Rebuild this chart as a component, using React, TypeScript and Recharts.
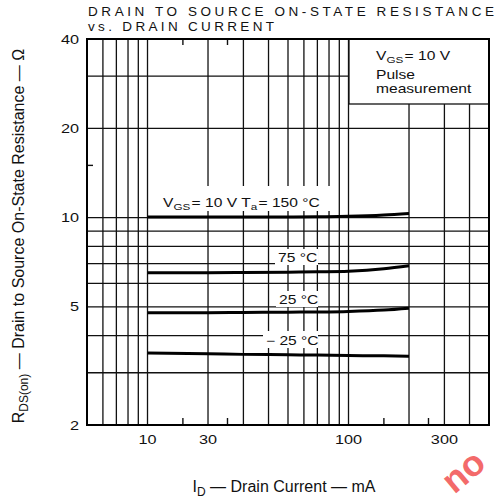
import React from "react";
import { LineChart, Line, XAxis, YAxis, CartesianGrid } from "recharts";

// drain current, mA
const currents = [10, 20, 30, 50, 70, 100, 150, 200];
// on-state resistance, ohm, per ambient temperature
const r150 = [10.05, 10.05, 10.05, 10.05, 10.07, 10.1, 10.2, 10.33];
const r75 = [6.52, 6.52, 6.53, 6.55, 6.57, 6.6, 6.72, 6.88];
const r25 = [4.78, 4.78, 4.79, 4.8, 4.81, 4.83, 4.88, 4.95];
const rMinus25 = [3.5, 3.48, 3.46, 3.45, 3.44, 3.43, 3.42, 3.41];

const xTicks = [10, 20, 100, 300];
const xTickLabels = ["10", "30", "100", "300"];
const yTicks = [2, 5, 10, 20, 40];
const xGrid = [6, 7, 8, 9, 10, 20, 30, 40, 50, 60, 70, 80, 90, 100, 200, 300, 400];
const yGrid = [3, 4, 5, 6, 7, 8, 9, 10, 20, 30];
const xMinor = [15, 25, 150, 250];
const yMinor = [15];

const X_DOMAIN = [5, 500];
const Y_DOMAIN = [2, 40];

const data = currents.map((id, i) => ({
  id,
  t150: r150[i],
  t75: r75[i],
  t25: r25[i],
  tm25: rMinus25[i],
}));

const FONT = "'Liberation Sans', Arial, Helvetica, sans-serif";
const INK = "#111";
const SX = 1.3;
const PLOT_H = 386;
const TICK_GAP = 10; // tickSize + tickMargin of the x axis

function Wide({ x, y, size = 12, anchor = "start", children }: any) {
  return (
    <g transform={`translate(${x},${y}) scale(${SX},1)`}>
      <text x={0} y={0} textAnchor={anchor} fontSize={size} fontFamily={FONT} fill={INK}>
        {children}
      </text>
    </g>
  );
}

function Sub({ children }: any) {
  return (
    <>
      <tspan dy={3} fontSize={9}>{children}</tspan>
      <tspan dy={-3}>{"\u200a"}</tspan>
    </>
  );
}

// labelled ticks get text; minor ticks get short inner marks at bottom and top
function XTick({ x, y, payload }: any) {
  const i = xTicks.indexOf(payload.value);
  if (i < 0) {
    const base = y - TICK_GAP;
    return (
      <g>
        <line x1={x} x2={x} y1={base} y2={base - 7} stroke={INK} strokeWidth={1.4} />
        <line x1={x} x2={x} y1={base - PLOT_H} y2={base - PLOT_H + 6} stroke={INK} strokeWidth={1.4} />
      </g>
    );
  }
  return (
    <g transform={`translate(${x},${y}) scale(${SX},1)`}>
      <text textAnchor="middle" dy="0.71em" fontSize={12.5} fontFamily={FONT} fill={INK}>
        {xTickLabels[i]}
      </text>
    </g>
  );
}

function YTick({ x, y, payload }: any) {
  return (
    <g transform={`translate(${x},${y}) scale(${SX},1)`}>
      <text textAnchor="end" dy="0.36em" fontSize={12.5} fontFamily={FONT} fill={INK}>
        {payload.value}
      </text>
    </g>
  );
}

const NoLabel = () => <g />;

const lineProps = {
  type: "monotone" as const,
  stroke: "#000",
  strokeWidth: 3,
  dot: false,
  isAnimationActive: false,
};

export default function App() {
  return (
    <div style={{ position: "absolute", left: 0, top: 0, width: 497, height: 501, background: "#fff" }}>
      <LineChart
        width={497}
        height={501}
        data={data}
        margin={{ top: 39, right: 8, bottom: 46, left: 47 }}
      >
        <CartesianGrid
          stroke={INK}
          strokeWidth={1.3}
          verticalValues={xGrid}
          horizontalValues={yGrid}
        />
        <XAxis
          dataKey="id"
          type="number"
          scale="log"
          domain={X_DOMAIN}
          allowDataOverflow
          ticks={[...xTicks, ...xMinor].sort((a, b) => a - b)}
          interval={0}
          tick={<XTick />}
          tickLine={false}
          axisLine={false}
          tickSize={6}
          tickMargin={4}
          height={30}
        />
        <YAxis
          type="number"
          scale="log"
          domain={Y_DOMAIN}
          allowDataOverflow
          ticks={yTicks}
          interval={0}
          tick={<YTick />}
          tickLine={false}
          axisLine={false}
          tickSize={6}
          tickMargin={2}
          width={40}
        />
        <YAxis
          yAxisId="minorLeft"
          type="number"
          scale="log"
          domain={Y_DOMAIN}
          allowDataOverflow
          ticks={yMinor}
          interval={0}
          orientation="left"
          mirror
          tick={NoLabel}
          tickSize={6}
          axisLine={false}
          tickLine={{ stroke: INK, strokeWidth: 1.4 }}
          width={1}
        />
        <Line dataKey="t150" {...lineProps} />
        <Line dataKey="t75" {...lineProps} />
        <Line dataKey="t25" {...lineProps} />
        <Line dataKey="tm25" {...lineProps} />
      </LineChart>

      <svg
        width={497}
        height={501}
        style={{ position: "absolute", left: 0, top: 0, pointerEvents: "none" }}
      >
        <text x={88} y={15.5} fontSize={13.5} fontFamily={FONT} fill={INK} textLength={406} lengthAdjust="spacing">
          DRAIN TO SOURCE ON-STATE RESISTANCE
        </text>
        <text x={88} y={31} fontSize={13.5} fontFamily={FONT} fill={INK} textLength={186} lengthAdjust="spacing">
          vs. DRAIN CURRENT
        </text>

        {/* legend box */}
        <rect x={349} y={39} width={140} height={65} fill="#fff" stroke={INK} strokeWidth={1.3} />
        <Wide x={376} y={60}>
          V<Sub>GS</Sub>= 10 V
        </Wide>
        <Wide x={376} y={78.5}>Pulse</Wide>
        <Wide x={376} y={92.5}>measurement</Wide>

        {/* curve labels */}
        <rect x={151} y={186} width={182} height={25} fill="#fff" />
        <Wide x={163} y={207}>
          V<Sub>GS</Sub>= 10 V  T<Sub>a</Sub>= 150 °C
        </Wide>
        <rect x={275} y={249} width={43} height={16} fill="#fff" />
        <Wide x={278} y={262}>75 °C</Wide>
        <rect x={276} y={291} width={42} height={16} fill="#fff" />
        <Wide x={279} y={304}>25 °C</Wide>
        <rect x={263} y={331} width={55} height={17} fill="#fff" />
        <Wide x={266} y={345}>− 25 °C</Wide>

        {/* frame */}
        <rect x={87} y={39} width={402} height={386} fill="none" stroke="#000" strokeWidth={2} />

        {/* axis titles */}
        <g transform="translate(18,236) rotate(-90)">
          <text textAnchor="middle" dy="0.35em" fontSize={16} fontFamily={FONT} fill={INK}>
            R<tspan dy={4} fontSize={12}>DS(on)</tspan>
            <tspan dy={-4}> — Drain to Source On-State Resistance — Ω</tspan>
          </text>
        </g>
        <text x={284} y={492} textAnchor="middle" fontSize={16} fontFamily={FONT} fill={INK}>
          I<tspan dy={4} fontSize={12}>D</tspan>
          <tspan dy={-4}> — Drain Current — mA</tspan>
        </text>

        {/* watermark */}
        <text
          transform="translate(463,471) rotate(-40)"
          textAnchor="middle"
          dominantBaseline="central"
          fontSize={36}
          fontWeight="bold"
          fontFamily={FONT}
          fill="#f25a5a"
          opacity={0.9}
        >
          no
        </text>
      </svg>
    </div>
  );
}
